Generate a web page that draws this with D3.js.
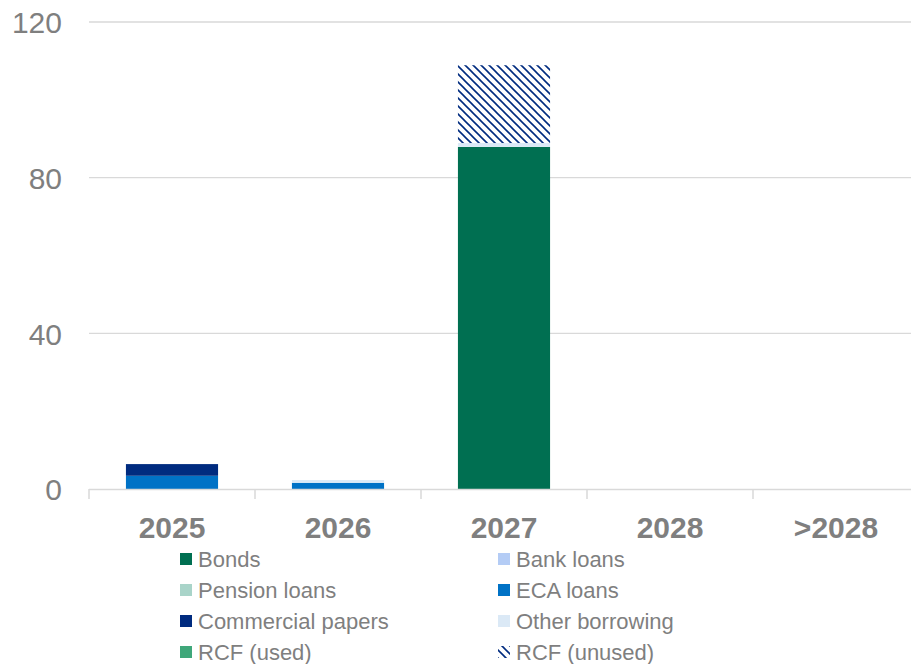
<!DOCTYPE html>
<html><head><meta charset="utf-8">
<script src="https://cdn.jsdelivr.net/npm/d3@7"></script>
<style>body{margin:0;background:#fff}svg{display:block}text{font-family:"Liberation Sans",Arial,sans-serif}</style>
</head><body>
<svg id="c" width="911" height="664"></svg>
<script>
const categories = ["2025","2026","2027","2028",">2028"];
const seriesNames = ["Bonds","Bank loans","Pension loans","ECA loans","Commercial papers","Other borrowing","RCF (used)","RCF (unused)"];
const seriesColors = ["#006f51","#b4ccf5","#a9d4c9","#0072c6","#002b7f","#dbe9f6","#3fa77a","pattern"];
const bonds        = [0, 0, 87.9, 0, 0];
const bankLoans    = [0, 0, 0, 0, 0];
const pensionLoans = [0, 0, 0, 0, 0];
const ecaLoans     = [3.4, 1.6, 0, 0, 0];
const commercialPapers = [3.0, 0, 0, 0, 0];
const otherBorrowing   = [0, 0.7, 1.0, 0, 0];
const rcfUsed      = [0, 0, 0, 0, 0];
const rcfUnused    = [0, 0, 20.0, 0, 0];
const yTicks = [0, 40, 80, 120];

(function(){
const seriesValues = [bonds, bankLoans, pensionLoans, ecaLoans, commercialPapers, otherBorrowing, rcfUsed, rcfUnused];
const stackOrder = [3, 4, 0, 1, 2, 5, 6, 7];

const svg = d3.select("#c");
const defs = svg.append("defs");
const pat = defs.append("pattern").attr("id","hatch").attr("patternUnits","userSpaceOnUse")
  .attr("width",8).attr("height",8);
pat.append("rect").attr("width",8).attr("height",8).attr("fill","#fff");
pat.append("path").attr("d","M-2,-2 L10,10 M-2,6 L2,10 M6,-2 L10,2").attr("stroke","#002b7f").attr("stroke-width",1.6);

const mL = 89, mR = 919, mT = 22, mB = 489;
const x = d3.scaleBand().domain(categories).range([mL, mR]).paddingInner(0.445).paddingOuter(0.2225);
const xb = d3.scaleBand().domain(categories).range([mL, mR]);
const y = d3.scaleLinear().domain([0,120]).range([mB, mT]);

svg.append("g").selectAll("line").data(yTicks.filter(d=>d>0)).join("line")
  .attr("x1",mL).attr("x2",mR).attr("y1",d=>y(d)).attr("y2",d=>y(d))
  .attr("stroke","#d9d9d9").attr("stroke-width",1.3);

svg.append("g").selectAll("text").data(yTicks).join("text")
  .attr("x",62).attr("y",d=>y(d)+0.5).attr("dy","0.36em").attr("text-anchor","end")
  .attr("font-size",30).attr("fill","#7f7f7f").text(d=>d);

const data = categories.map((c,i)=>{const o={cat:c}; seriesNames.forEach((s,j)=>o[s]=seriesValues[j][i]); return o;});
const stack = d3.stack().keys(stackOrder.map(i=>seriesNames[i]));
const layers = stack(data);
layers.forEach(layer=>{
  const idx = seriesNames.indexOf(layer.key);
  const fill = seriesColors[idx]==="pattern" ? "url(#hatch)" : seriesColors[idx];
  svg.append("g").selectAll("rect").data(layer.filter(d=>d[1]-d[0]>0)).join("rect")
    .attr("x",d=>x(d.data.cat)).attr("width",x.bandwidth())
    .attr("y",d=>y(d[1])).attr("height",d=>y(d[0])-y(d[1]))
    .attr("fill",fill);
});

svg.append("line").attr("x1",mL).attr("x2",mR).attr("y1",mB+0.5).attr("y2",mB+0.5)
  .attr("stroke","#d9d9d9").attr("stroke-width",1.5);
const bounds = categories.map(c=>xb(c)).concat([mR]);
svg.append("g").selectAll("line").data(bounds).join("line")
  .attr("x1",d=>d).attr("x2",d=>d).attr("y1",mB).attr("y2",mB+10)
  .attr("stroke","#d9d9d9").attr("stroke-width",1.5);
svg.append("g").selectAll("text").data(categories).join("text")
  .attr("x",d=>xb(d)+xb.bandwidth()/2).attr("y",527).attr("dy","0.36em").attr("text-anchor","middle")
  .attr("font-size",30).attr("font-weight","bold").attr("fill","#7f7f7f").text(d=>d);

const lg = svg.append("g");
seriesNames.forEach((s,i)=>{
  const col = i%2, row = Math.floor(i/2);
  const lx = col===0 ? 180 : 498, ly = 559 + row*31;
  lg.append("rect").attr("x",lx).attr("y",ly-6).attr("width",12).attr("height",12)
    .attr("fill", seriesColors[i]==="pattern" ? "url(#hatch)" : seriesColors[i]);
  lg.append("text").attr("x",lx+18).attr("y",ly).attr("dy","0.36em")
    .attr("font-size",22).attr("fill","#7f7f7f").text(s);
});
})();
</script>
</body></html>
